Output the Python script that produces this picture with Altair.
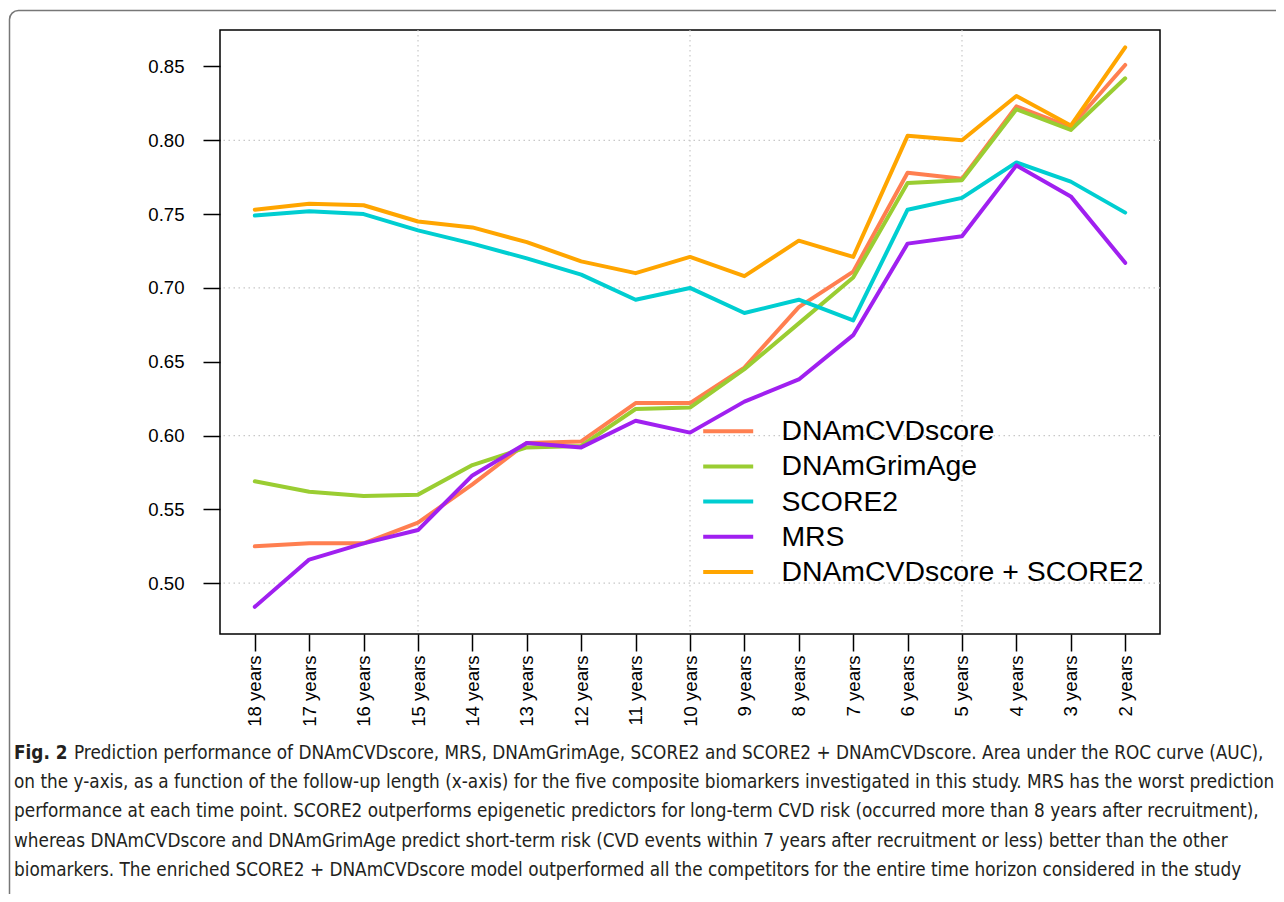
import altair as alt
import pandas as pd

years = ["18 years", "17 years", "16 years", "15 years", "14 years", "13 years",
         "12 years", "11 years", "10 years", "9 years", "8 years", "7 years",
         "6 years", "5 years", "4 years", "3 years", "2 years"]

series_names = ["DNAmCVDscore", "DNAmGrimAge", "SCORE2", "MRS", "DNAmCVDscore + SCORE2"]
series_colors = ["#FF7F50", "#9ACD32", "#00CED1", "#A020F0", "#FFA500"]

dnam_cvd = [0.525, 0.527, 0.527, 0.541, 0.567, 0.595, 0.596, 0.622, 0.622, 0.646,
            0.687, 0.711, 0.778, 0.774, 0.823, 0.809, 0.851]
grimage = [0.569, 0.562, 0.559, 0.560, 0.580, 0.592, 0.593, 0.618, 0.619, 0.645,
           0.676, 0.707, 0.771, 0.773, 0.821, 0.807, 0.842]
score2 = [0.749, 0.752, 0.750, 0.739, 0.730, 0.720, 0.709, 0.692, 0.700, 0.683,
          0.692, 0.678, 0.753, 0.761, 0.785, 0.772, 0.751]
mrs = [0.484, 0.516, 0.527, 0.536, 0.573, 0.595, 0.592, 0.610, 0.602, 0.623,
       0.638, 0.668, 0.730, 0.735, 0.783, 0.762, 0.717]
combo = [0.753, 0.757, 0.756, 0.745, 0.741, 0.731, 0.718, 0.710, 0.721, 0.708,
         0.732, 0.721, 0.803, 0.800, 0.830, 0.810, 0.863]

y_ticks = [0.50, 0.55, 0.60, 0.65, 0.70, 0.75, 0.80, 0.85]
y_grid = [0.50, 0.60, 0.70, 0.80]
x_grid = ["15 years", "10 years", "5 years"]

caption_fig = "Fig. 2"
caption_line1 = ("Prediction performance of DNAmCVDscore, MRS, DNAmGrimAge, SCORE2 and "
                 "SCORE2 + DNAmCVDscore. Area under the ROC curve (AUC),")
caption_rest = [
    "on the y-axis, as a function of the follow-up length (x-axis) for the five composite biomarkers investigated in this study. MRS has the worst prediction",
    "performance at each time point. SCORE2 outperforms epigenetic predictors for long-term CVD risk (occurred more than 8 years after recruitment),",
    "whereas DNAmCVDscore and DNAmGrimAge predict short-term risk (CVD events within 7 years after recruitment or less) better than the other",
    "biomarkers. The enriched SCORE2 + DNAmCVDscore model outperformed all the competitors for the entire time horizon considered in the study",
]

rows = []
for name, vals in zip(series_names, [dnam_cvd, grimage, score2, mrs, combo]):
    for i, (yr, v) in enumerate(zip(years, vals)):
        rows.append({"year": yr, "auc": v, "model": name, "idx": i})
df = pd.DataFrame(rows)

AXIS_FONT = "Liberation Sans, Arial, Helvetica, sans-serif"
CAP_FONT = "DejaVu Sans Condensed, Liberation Sans Narrow, sans-serif"

x_scale = alt.Scale(type="point", domain=years, padding=0.64)
y_scale = alt.Scale(domain=[0.4656, 0.8747], nice=False, zero=False)

x_axis = alt.Axis(title=None, labelAngle=270, labelFontSize=18.6, labelFont=AXIS_FONT,
                  labelColor="black", tickColor="black", tickSize=17, tickWidth=1.5,
                  domain=False, grid=False, labelPadding=4)
y_axis = alt.Axis(title=None, values=y_ticks, format=".2f", labelFontSize=18.6,
                  labelFont=AXIS_FONT, labelColor="black", tickColor="black",
                  tickSize=17, tickWidth=1.5, domain=False, grid=False, labelPadding=19)

grid_style = dict(color="#c8c8c8", strokeDash=[1.5, 3.5], strokeWidth=1.2)

ygrid = alt.Chart(pd.DataFrame({"g": y_grid})).mark_rule(**grid_style).encode(
    y=alt.Y("g:Q", scale=y_scale, axis=y_axis)
)
xgrid = alt.Chart(pd.DataFrame({"g": x_grid})).mark_rule(**grid_style).encode(
    x=alt.X("g:N", scale=x_scale, axis=x_axis)
)

lines = alt.Chart(df).mark_line(strokeWidth=4, strokeCap="round", strokeJoin="round").encode(
    x=alt.X("year:N", scale=x_scale, sort=years, axis=x_axis),
    y=alt.Y("auc:Q", scale=y_scale, axis=y_axis),
    color=alt.Color("model:N", scale=alt.Scale(domain=series_names, range=series_colors),
                    legend=alt.Legend(title=None, orient="none", legendX=494, legendY=387,
                                      symbolType="M-2.5,0H2.5", symbolSize=400,
                                      symbolStrokeWidth=4, labelFontSize=28.4,
                                      labelFont=AXIS_FONT, labelColor="black",
                                      labelOffset=39, rowPadding=6.2, labelLimit=600)),
    order=alt.Order("idx:Q"),
)

one = pd.DataFrame({"a": [0]})
frame = alt.Chart(one).mark_rect(fillOpacity=0, stroke="#777777", strokeWidth=1.5,
                                 cornerRadius=9).encode(
    x=alt.value(-210.5), x2=alt.value(1100), y=alt.value(-19.5), y2=alt.value(920)
)

CAP_SIZE = 18.8
cap_fig = alt.Chart(one).mark_text(align="left", baseline="middle", font=CAP_FONT,
                                   fontSize=CAP_SIZE, fontWeight="bold", color="#231f20").encode(
    x=alt.value(-206), y=alt.value(723), text=alt.value(caption_fig)
)
cap_l1 = alt.Chart(one).mark_text(align="left", baseline="middle", font=CAP_FONT,
                                  fontSize=CAP_SIZE, color="#231f20").encode(
    x=alt.value(-146), y=alt.value(723), text=alt.value(caption_line1)
)
cap_rest = alt.Chart(one).mark_text(align="left", baseline="middle", font=CAP_FONT,
                                    fontSize=CAP_SIZE, color="#231f20", lineBreak="\n",
                                    lineHeight=29.5).encode(
    x=alt.value(-206), y=alt.value(751.5), text=alt.value("\n".join(caption_rest))
)

chart = alt.layer(frame, ygrid, xgrid, lines, cap_fig, cap_l1, cap_rest).properties(
    width=940, height=604,
    autosize=alt.AutoSizeParams(type="none"),
    padding={"left": 212, "top": 22, "right": 116, "bottom": 260},
).configure_view(stroke="black", strokeWidth=1.5)

chart.save("out.html", embed_options={"renderer": "svg", "actions": False})
